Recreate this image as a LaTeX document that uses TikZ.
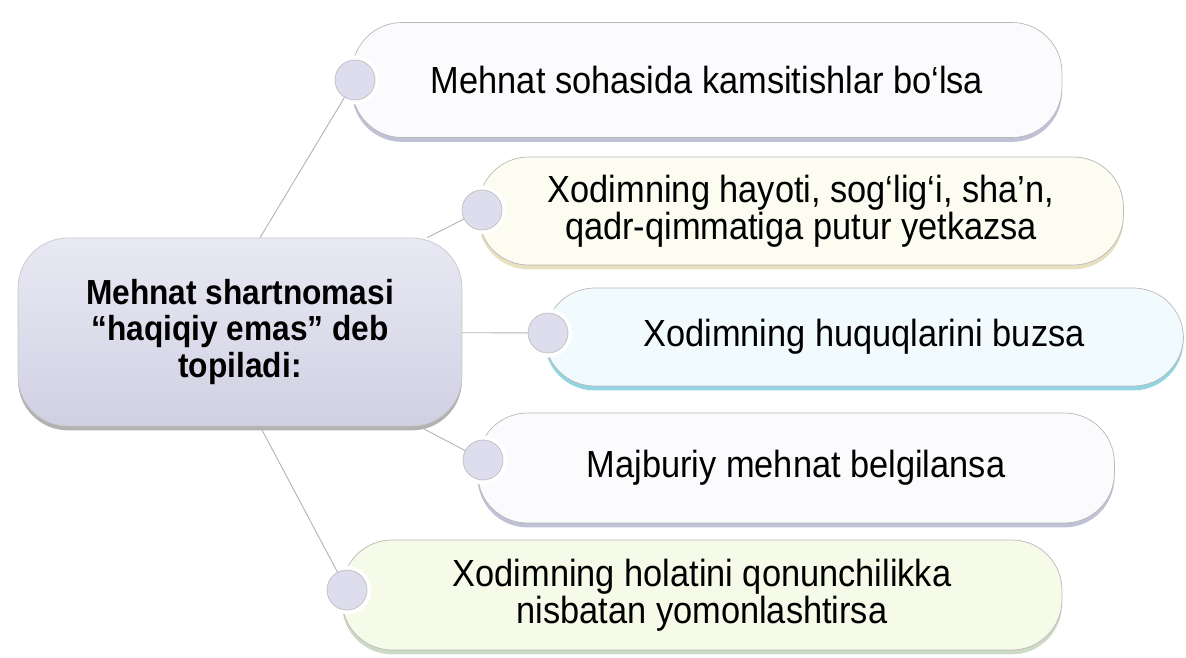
\documentclass[tikz,border=0pt]{standalone}
\usepackage{fontspec}
\setmainfont{Liberation Sans}
\newfontfamily\narrowsans[FakeStretch=0.91]{Liberation Sans}
\usepackage{xcolor}
\usepackage{tikz}
\usetikzlibrary{shadows,backgrounds}

\definecolor{hubtop}{HTML}{E9E9F4}
\definecolor{hubbot}{HTML}{D0D0E3}
\definecolor{dotfill}{HTML}{DDDDEE}
\definecolor{lavfill}{HTML}{FBFBFE}
\definecolor{lavshade}{HTML}{B9B9D2}
\definecolor{creamfill}{HTML}{FDFCF1}
\definecolor{creamshade}{HTML}{E6DDB8}
\definecolor{cyanfill}{HTML}{F1FBFD}
\definecolor{cyanshade}{HTML}{86CFDF}
\definecolor{greenfill}{HTML}{F6FAE8}
\definecolor{greenshade}{HTML}{C9D6C2}

\begin{document}
\begin{tikzpicture}[x=0.02cm, y=-0.02cm,
  hubbox/.style={rounded corners=1cm, top color=hubtop, bottom color=hubbot,
    draw=gray!45, line width=0.4pt, minimum width=8.88cm, minimum height=3.76cm,
    align=center, font=\narrowsans\bfseries\fontsize{19.8}{20.5}\selectfont,
    drop shadow={shadow xshift=0pt, shadow yshift=-2.5pt, fill=gray!75, opacity=0.8}},
  pill/.style 2 args={rounded corners=1cm, fill=#1, draw=gray!55, line width=0.4pt,
    align=center, font=\narrowsans\fontsize{21.5}{20}\selectfont,
    drop shadow={shadow xshift=0pt, shadow yshift=-2.5pt, fill=#2, opacity=0.9}},
  dot/.style={circle, fill=dotfill, draw=gray!50, line width=0.4pt,
    minimum size=0.8cm, inner sep=0pt, preaction={draw=white, line width=5pt}},
  link/.style={draw=gray!60, line width=0.5pt}]
\useasboundingbox (0,0) rectangle (1186,658);

% Statements on the right
\node[pill={lavfill}{lavshade}, minimum width=14.2cm, minimum height=2.3cm] (p1) at (707,80)
  {Mehnat sohasida kamsitishlar bo‘lsa};
\node[pill={creamfill}{creamshade}, minimum width=12.9cm, minimum height=2.16cm] (p2) at (801,211)
  {Xodimning hayoti, sog‘lig‘i, sha’n,\\qadr-qimmatiga putur yetkazsa};
\node[pill={cyanfill}{cyanshade}, minimum width=12.78cm, minimum height=1.96cm] (p3) at (864,337)
  {Xodimning huquqlarini buzsa};
\node[pill={lavfill}{lavshade}, minimum width=12.74cm, minimum height=2.2cm] (p4) at (796,468)
  {Majburiy mehnat belgilansa};
\node[pill={greenfill}{greenshade}, minimum width=14.4cm, minimum height=2.2cm] (p5) at (702,595)
  {Xodimning holatini qonunchilikka\\nisbatan yomonlashtirsa};

% Central box
\node[hubbox] (hub) at (240,332) {Mehnat shartnomasi\\“haqiqiy emas” deb\\topiladi:};

% Bullets
\node[dot] (c1) at (355,80) {};
\node[dot] (c2) at (482,210) {};
\node[dot] (c3) at (548,333) {};
\node[dot] (c4) at (483,460) {};
\node[dot] (c5) at (347,590) {};

% Links
\draw[link] (hub.78) -- (c1);
\draw[link] (hub) -- (c2);
\draw[link] (hub) -- (c3);
\draw[link] (hub) -- (c4);
\draw[link] (hub.-78) -- (c5);

\end{tikzpicture}
\end{document}
